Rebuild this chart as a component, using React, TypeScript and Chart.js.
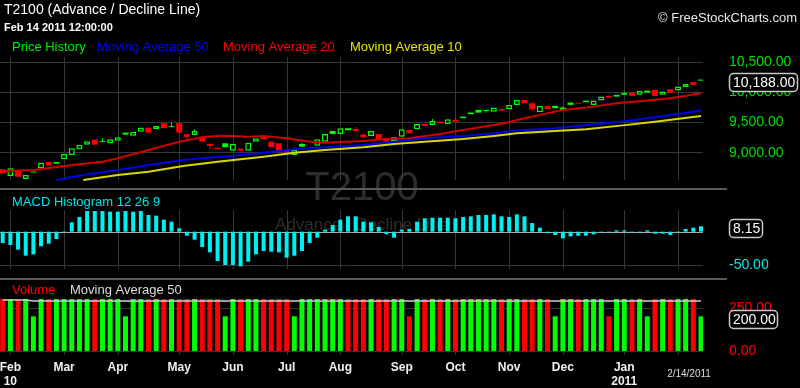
import React, { useEffect, useRef } from 'react';
import { Chart, registerables } from 'chart.js';
Chart.register(...registerables);

// ---------- DATA ----------
const candleOpen = [
  8718, 8606, 8690, 8557, 8680, 8734, 8839, 8839, 8884, 8955,
  9050, 9126, 9209, 9184, 9150, 9193, 9326, 9276, 9342, 9409,
  9382, 9482, 9433, 9482, 9300, 9288, 9259, 9138, 9077, 9149,
  9027, 9060, 9027, 9176, 9259, 9176, 9149, 9015, 8955, 9138,
  9190, 9110, 9176, 9354, 9304, 9399, 9387, 9298, 9271, 9304,
  9216, 9249, 9259, 9370, 9382, 9470, 9453, 9508, 9470, 9537,
  9592, 9658, 9703, 9703, 9674, 9719, 9714, 9786, 9869, 9814,
  9664, 9769, 9769, 9741, 9824, 9824, 9857, 9786, 9857, 9935,
  9952, 9980, 9990, 9952, 10023, 10035, 9952, 10046, 10023, 10080,
  10163, 10205,
];
const candleClose = [
  8651, 8734, 8595, 8623, 8664, 8827, 8778, 8811, 8972, 9066,
  9121, 9183, 9126, 9168, 9216, 9249, 9292, 9342, 9409, 9326,
  9437, 9399, 9417, 9326, 9255, 9354, 9176, 9105, 9050, 9083,
  9138, 9027, 9160, 9232, 9216, 9083, 9027, 8995, 9038, 9093,
  9175, 9216, 9304, 9304, 9399, 9365, 9354, 9249, 9354, 9216,
  9176, 9176, 9382, 9316, 9470, 9437, 9520, 9482, 9548, 9508,
  9565, 9631, 9658, 9686, 9741, 9691, 9786, 9869, 9814, 9714,
  9769, 9714, 9731, 9703, 9786, 9808, 9830, 9857, 9923, 9907,
  9923, 9952, 9935, 10018, 9990, 9935, 10007, 9990, 10090, 10134,
  10118, 10188,
];
const candleColor =
  'RGRGGGRGGG' + 'GGRGGGGGGR' + 'GRGRRGRRRG' + 'GRGGRRRRGG' + 'GGGGGGRRGR' +
  'RGGRGRGRGR' + 'GGGGGRGGRR' + 'GRGGGRGGGR' + 'GGRGGRGRGG' + 'RG';

const wickIdx = [13, 22, 24, 25, 27, 39, 46, 56, 59, 63, 73, 81];
const wickLow = [9168, 9417, 9205, 9288, 9050, 9093, 9354, 9453, 9508, 9658, 9703, 9952];
const wickHigh = [9232, 9492, 9300, 9382, 9138, 9160, 9421, 9553, 9576, 9703, 9760, 10002];

const ma50 = [[7, 8540], [10.5, 8623], [15, 8706], [19, 8789], [23.5, 8872], [26, 8900], [30, 8944], [34, 8993], [38, 9050], [42, 9083], [47, 9121], [51, 9176], [55, 9232], [60, 9271], [64, 9316], [67, 9360], [72, 9399], [76, 9453], [80.5, 9508], [85, 9581], [91, 9691]];
const ma20 = [[0, 8689], [4, 8706], [8, 8772], [13, 8844], [15, 8900], [19, 9038], [23, 9176], [26, 9249], [28, 9276], [30, 9271], [32, 9259], [34, 9271], [37, 9233], [40, 9176], [42, 9159], [47, 9188], [50, 9221], [53, 9233], [57, 9304], [60, 9370], [64, 9453], [66, 9498], [67, 9536], [70, 9620], [73, 9703], [77, 9757], [80, 9814], [84, 9857], [87, 9897], [91, 9980]];
const ma10 = [[10.5, 8540], [15, 8623], [19, 8678], [23.5, 8772], [28, 8844], [34, 8927], [38, 8993], [42, 9038], [47, 9083], [51, 9138], [55, 9176], [60, 9221], [64, 9271], [67, 9316], [72, 9354], [76, 9382], [80.5, 9442], [85, 9508], [91, 9603]];

const macd = [
  -17, -20, -27, -36, -34, -22, -18, -11, -1, 14,
  22, 31, 31, 31, 30, 30, 31, 30, 31, 25,
  24, 18, 15, 5, -6, -12, -23, -31, -44, -50,
  -50, -52, -45, -34, -29, -30, -31, -39, -36, -29,
  -17, -9, 3, 10, 18, 23, 23, 15, 14, 7,
  -4, -9, 3, 4, 15, 20, 21, 21, 21, 20,
  22, 23, 25, 25, 26, 23, 22, 26, 23, 13,
  6, -2, -5, -10, -7, -6, -6, -4, -1, -1,
  2, 2, -1, -1, 2, -3, -3, -5, -1, 4,
  6, 8.15,
];

const volume = [
  300, 300, 300, 300, 200, 300, 300, 300, 300, 300,
  300, 300, 300, 300, 300, 300, 200, 300, 300, 300,
  300, 300, 300, 300, 300, 300, 300, 300, 300, 200,
  300, 300, 300, 300, 300, 300, 300, 300, 200, 300,
  300, 300, 300, 300, 300, 300, 300, 300, 300, 300,
  300, 300, 300, 200, 300, 300, 300, 300, 300, 300,
  300, 300, 300, 300, 300, 300, 300, 300, 300, 300,
  300, 300, 200, 300, 300, 300, 300, 300, 300, 200,
  300, 300, 300, 300, 200, 300, 300, 300, 300, 300,
  300, 200,
];
const volumeColor =
  'RGRGGGRGGG' + 'GGRGGGGGGR' + 'GRGRRGRRRG' + 'GRGGRRRRGG' + 'GGGGGRRRGR' +
  'RGGRGRGRGR' + 'GGGGGRGGRR' + 'GRGGGRGGGR' + 'GGRGGRGRGG' + 'RG';
const volumeMA = [[0, 294], [3, 294], [4, 289], [40, 289], [91, 289]];

const monthGrid = [1, 8, 15, 23, 30, 37, 44, 52, 59, 66, 73, 81, 88];
const monthLabels = ['Feb', 'Mar', 'Apr', 'May', 'Jun', 'Jul', 'Aug', 'Sep', 'Oct', 'Nov', 'Dec', 'Jan', ''];
const yearLabels = ['10', '', '', '', '', '', '', '', '', '', '', '2011', ''];
const priceTicks = [9000, 9500, 10000, 10500];
const macdTicks = [-50];
const volumeTicks = [0, 250];

const titleText = 'T2100 (Advance / Decline Line)';
const dateText = 'Feb 14 2011 12:00:00';
const creditText = '\u00A9 FreeStockCharts.com';
const lastDateText = '2/14/2011';
const watermark = 'T2100';
const watermarkSub = 'Advance / Decline Line';

// ---------- STYLE ----------
const FONT = '"Liberation Sans", Arial, sans-serif';
const GREEN = '#00ff00';
const RED = '#ff0000';

const fmt = (v: number) => v.toLocaleString('en-US', { minimumFractionDigits: 2, maximumFractionDigits: 2 });

function text(ctx: CanvasRenderingContext2D, s: string, x: number, y: number, font: string, color: string, align: CanvasTextAlign = 'left') {
  ctx.font = font;
  ctx.fillStyle = color;
  ctx.textAlign = align;
  ctx.textBaseline = 'middle';
  ctx.fillText(s, x, y);
}

function box(ctx: CanvasRenderingContext2D, s: string, x: number, cy: number, w: number) {
  const h = 18;
  ctx.beginPath();
  const r = 4;
  const y = Math.round(cy - h / 2) + 0.5;
  const xx = x + 0.5;
  ctx.moveTo(xx + r, y);
  ctx.lineTo(xx + w - r, y);
  ctx.arcTo(xx + w, y, xx + w, y + r, r);
  ctx.lineTo(xx + w, y + h - r);
  ctx.arcTo(xx + w, y + h, xx + w - r, y + h, r);
  ctx.lineTo(xx + r, y + h);
  ctx.arcTo(xx, y + h, xx, y + h - r, r);
  ctx.lineTo(xx, y + r);
  ctx.arcTo(xx, y, xx + r, y, r);
  ctx.closePath();
  ctx.fillStyle = '#000';
  ctx.fill();
  ctx.strokeStyle = '#c8c8c8';
  ctx.lineWidth = 1.5;
  ctx.stroke();
  text(ctx, s, x + 4, y + h / 2 + 0.5, `14px ${FONT}`, '#ffffff');
}

const overlay = {
  id: 'overlay',
  beforeDraw(chart: any) {
    const ctx = chart.ctx;
    ctx.save();
    ctx.fillStyle = '#000';
    ctx.fillRect(0, 0, chart.width, chart.height);
    ctx.restore();
  },
  beforeDatasetsDraw(chart: any) {
    const { ctx, scales, chartArea } = chart;
    const { x, yP, yM, yV } = scales;
    const L = chartArea.left;
    const Rr = chartArea.right;
    ctx.save();
    // watermark
    ctx.fillStyle = '#2c2c2c';
    ctx.textAlign = 'center';
    ctx.textBaseline = 'alphabetic';
    ctx.font = `40px ${FONT}`;
    ctx.fillText(watermark, 362, 200);
    ctx.font = `17px ${FONT}`;
    ctx.fillText(watermarkSub, 362, 230);

    ctx.strokeStyle = '#363636';
    ctx.lineWidth = 1;
    const hline = (y: number, x0: number, x1: number) => {
      const yy = Math.round(y) + 0.5;
      ctx.beginPath(); ctx.moveTo(x0, yy); ctx.lineTo(x1, yy); ctx.stroke();
    };
    const vline = (xp: number, y0: number, y1: number) => {
      const xx = Math.round(xp) + 0.5;
      ctx.beginPath(); ctx.moveTo(xx, y0); ctx.lineTo(xx, y1); ctx.stroke();
    };
    priceTicks.forEach((v) => hline(yP.getPixelForValue(v), L, Rr));
    macdTicks.forEach((v) => hline(yM.getPixelForValue(v), L, Rr));
    volumeTicks.forEach((v) => hline(yV.getPixelForValue(v), L, Rr));
    monthGrid.forEach((g) => {
      const px = x.getPixelForValue(g);
      vline(px, 57, 180);
      vline(px, 210, 269);
      vline(px, 350, 355);
    });
    // panel separators
    ctx.strokeStyle = '#5a5a5a';
    ctx.lineWidth = 2;
    ctx.beginPath(); ctx.moveTo(0, 189); ctx.lineTo(727, 189); ctx.stroke();
    ctx.beginPath(); ctx.moveTo(0, 279); ctx.lineTo(727, 279); ctx.stroke();
    // MACD zero line
    ctx.strokeStyle = '#a8a8a8';
    ctx.lineWidth = 1;
    hline(yM.getPixelForValue(0), L, Rr);
    ctx.restore();
  },
  afterDatasetsDraw(chart: any) {
    const { ctx, scales } = chart;
    const { x, yP, yM, yV } = scales;
    ctx.save();
    // titles
    text(ctx, titleText, 4, 10.5, `14px ${FONT}`, '#ffffff');
    text(ctx, dateText, 4, 27.5, `bold 11px ${FONT}`, '#ffffff');
    text(ctx, creditText, 797, 18.5, `13px ${FONT}`, '#e8e8e8', 'right');
    // price legend
    text(ctx, 'Price History', 12, 47, `13px ${FONT}`, '#00ee00');
    text(ctx, 'Moving Average 50', 97, 47, `13px ${FONT}`, '#0000ff');
    text(ctx, 'Moving Average 20', 223, 47, `13px ${FONT}`, '#ff0000');
    text(ctx, 'Moving Average 10', 350, 47, `13px ${FONT}`, '#e6e600');
    // MACD + volume legends
    text(ctx, 'MACD Histogram 12 26 9', 12, 202.5, `13px ${FONT}`, '#00e5e5');
    text(ctx, 'Volume', 12, 290, `13px ${FONT}`, '#ff0000');
    text(ctx, 'Moving Average 50', 70, 290, `13px ${FONT}`, '#dddddd');

    // right axes
    priceTicks.forEach((v) => text(ctx, fmt(v), 729, yP.getPixelForValue(v) + 0.5, `14px ${FONT}`, '#00dd00'));
    box(ctx, fmt(candleClose[candleClose.length - 1]), 729, yP.getPixelForValue(candleClose[candleClose.length - 1]) + 1.5, 68);
    macdTicks.forEach((v) => text(ctx, fmt(v), 729, yM.getPixelForValue(v) + 0.5, `14px ${FONT}`, '#00e5e5'));
    box(ctx, fmt(macd[macd.length - 1]), 729, yM.getPixelForValue(macd[macd.length - 1]) + 2, 33);
    volumeTicks.forEach((v) => text(ctx, fmt(v), 729, yV.getPixelForValue(v) + 0.5, `14px ${FONT}`, '#ff0000'));
    box(ctx, fmt(volume[volume.length - 1]), 729, yV.getPixelForValue(volume[volume.length - 1]) + 2.5, 48);

    // x labels
    monthGrid.forEach((g, i) => {
      const px = x.getPixelForValue(g);
      if (monthLabels[i]) text(ctx, monthLabels[i], px, 368, `bold 12px ${FONT}`, '#f0f0f0', 'center');
      if (yearLabels[i]) text(ctx, yearLabels[i], px, 382, `bold 12px ${FONT}`, '#f0f0f0', 'center');
    });
    text(ctx, lastDateText, 689, 374, `10px ${FONT}`, '#dddddd', 'center');
    ctx.restore();
  },
};

export default function App() {
  const ref = useRef<HTMLCanvasElement>(null);
  useEffect(() => {
    document.body.style.margin = '0';
    document.body.style.background = '#000';
    const idx = candleOpen.map((_, i) => i);
    const isUp = (i: number) => candleClose[i] > candleOpen[i];
    const cCol = (i: number) => (candleColor[i] === 'G' ? GREEN : RED);
    const chart = new Chart(ref.current as HTMLCanvasElement, {
      type: 'bar',
      data: {
        datasets: [
          {
            type: 'line', label: 'MA10', yAxisID: 'yP', order: 1,
            data: ma10.map(([a, b]) => ({ x: a, y: b })),
            borderColor: '#d8d800', borderWidth: 2, pointRadius: 0, tension: 0,
          },
          {
            type: 'line', label: 'MA50', yAxisID: 'yP', order: 2,
            data: ma50.map(([a, b]) => ({ x: a, y: b })),
            borderColor: '#0000e8', borderWidth: 2, pointRadius: 0, tension: 0,
          },
          {
            type: 'line', label: 'MA20', yAxisID: 'yP', order: 3,
            data: ma20.map(([a, b]) => ({ x: a, y: b })),
            borderColor: '#d00000', borderWidth: 2, pointRadius: 0, tension: 0,
          },
          {
            type: 'bar', label: 'bodies', yAxisID: 'yP', order: 10, grouped: false,
            data: idx.map((i) => ({ x: i, y: [candleOpen[i], candleClose[i]] })),
            backgroundColor: idx.map((i) => (isUp(i) ? '#000000' : cCol(i))),
            borderColor: idx.map((i) => cCol(i)),
            borderWidth: idx.map((i) => (isUp(i) ? 1.5 : 0)),
            borderSkipped: false, barThickness: 6, inflateAmount: 0,
          },
          {
            type: 'bar', label: 'wicks', yAxisID: 'yP', order: 11, grouped: false,
            data: wickIdx.map((i, k) => ({ x: i, y: [wickLow[k], wickHigh[k]] })),
            backgroundColor: wickIdx.map((i) => cCol(i)),
            borderWidth: 0, barThickness: 1, inflateAmount: 0,
          },
          {
            type: 'bar', label: 'MACD', yAxisID: 'yM', order: 10, grouped: false,
            data: idx.map((i) => ({ x: i, y: macd[i] })),
            backgroundColor: '#00f0f0', borderWidth: 0, barThickness: 4, inflateAmount: 0,
          },
          {
            type: 'bar', label: 'Volume', yAxisID: 'yV', order: 10, grouped: false,
            data: idx.map((i) => ({ x: i, y: volume[i] })),
            backgroundColor: idx.map((i) => (volumeColor[i] === 'G' ? GREEN : RED)),
            borderWidth: 0, barThickness: 5, inflateAmount: 0,
          },
          {
            type: 'line', label: 'VolMA', yAxisID: 'yV', order: 1,
            data: volumeMA.map(([a, b]) => ({ x: a, y: b })),
            borderColor: '#d0d0d0', borderWidth: 1.5, pointRadius: 0, tension: 0,
          },
        ] as any,
      },
      options: {
        animation: false,
        responsive: false,
        events: [],
        layout: { padding: { left: 0, right: 97, top: 57, bottom: 32 } },
        plugins: { legend: { display: false }, tooltip: { enabled: false }, title: { display: false } },
        scales: {
          x: { type: 'linear', min: -0.352, max: 91.26, display: false, offset: false },
          yP: { type: 'linear', min: 5622, max: 10580, display: false },
          yM: { type: 'linear', min: -186.4, max: 261.9, display: false },
          yV: { type: 'linear', min: -28.85, max: 1696.2, display: false },
        },
      } as any,
      plugins: [overlay as any],
    });
    return () => chart.destroy();
  }, []);
  return (
    <div style={{ width: 800, height: 388, background: '#000' }}>
      <canvas ref={ref} width={800} height={388} style={{ display: 'block', width: 800, height: 388 }} />
    </div>
  );
}
